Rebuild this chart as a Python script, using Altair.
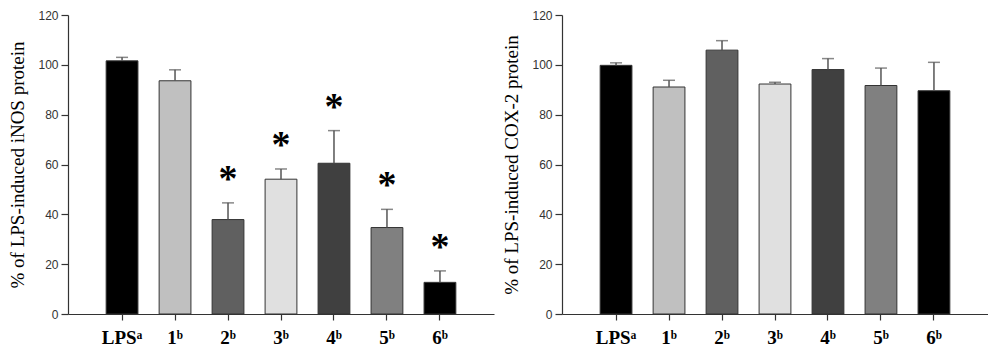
import altair as alt
import pandas as pd

categories = ["LPS", "1", "2", "3", "4", "5", "6"]
superscripts = ["a", "b", "b", "b", "b", "b", "b"]
colors = ["#000000", "#c0c0c0", "#606060", "#e0e0e0", "#404040", "#808080", "#000000"]

inos_mean = [101.6, 93.6, 37.9, 54.1, 60.5, 34.7, 12.7]
inos_err = [1.4, 4.4, 6.7, 4.1, 13.1, 7.3, 4.6]
inos_sig = ["", "", "*", "*", "*", "*", "*"]

cox_mean = [99.8, 91.1, 105.9, 92.3, 98.1, 91.7, 89.6]
cox_err = [1.0, 2.7, 3.8, 0.7, 4.4, 7.0, 11.4]
cox_sig = ["", "", "", "", "", "", ""]

y_ticks = [0, 20, 40, 60, 80, 100, 120]

sup_map = {"a": "\u1d43", "b": "\u1d47"}
labels = [c + sup_map[s] for c, s in zip(categories, superscripts)]


def panel(mean, err, sig, title):
    df = pd.DataFrame({
        "cat": labels,
        "mean": mean,
        "top": [m + e for m, e in zip(mean, err)],
        "color": colors,
        "sig": sig,
    })
    x = alt.X(
        "cat:N", sort=labels,
        scale=alt.Scale(paddingInner=0.4, paddingOuter=0.72),
        axis=alt.Axis(
            title=None, labelAngle=0, labelFont="Liberation Serif",
            labelFontWeight="bold", labelFontSize=19, labelColor="black",
            labelPadding=8, tickSize=6, domainColor="#333", tickColor="#333",
            domainWidth=1.2, tickWidth=1.2,
        ),
    )
    y = alt.Y(
        "mean:Q",
        scale=alt.Scale(domain=[0, 120], nice=False),
        axis=alt.Axis(
            title=title, values=y_ticks, grid=False, titleFont="Liberation Serif",
            titleFontSize=19, titleFontWeight="normal", titleColor="black",
            titlePadding=10, labelFont="Liberation Sans", labelFontSize=12,
            labelColor="#333", labelPadding=3, tickSize=7, tickColor="#333",
            domainColor="#333", domainWidth=1.2, tickWidth=1.2,
        ),
    )
    bars = alt.Chart(df).mark_bar(stroke="#333", strokeWidth=1).encode(
        x=x, y=y, color=alt.Color("color:N", scale=None)
    )
    rule = alt.Chart(df).mark_rule(color="#555", strokeWidth=1.5).encode(
        x=x, y="mean:Q", y2="top:Q"
    )
    cap = alt.Chart(df).mark_tick(color="#555", thickness=1.5, size=12).encode(
        x=x, y="top:Q"
    )
    layers = [bars, rule, cap]
    if any(s for s in sig):
        star = alt.Chart(df).transform_filter("datum.sig != ''").mark_text(
            font="Liberation Serif", fontWeight="bold", fontSize=38, dy=-12,
            baseline="alphabetic", color="black"
        ).encode(x=x, y="top:Q", text="sig:N")
        layers.append(star)
    return alt.layer(*layers).properties(width=426, height=299)


left = panel(inos_mean, inos_err, inos_sig, "% of LPS-induced iNOS protein")
right = panel(cox_mean, cox_err, cox_sig, "% of LPS-induced COX-2 protein")

chart = alt.hconcat(left, right, spacing=8).properties(
    padding={"left": 0, "top": 1, "right": 0, "bottom": 0}
).configure_view(stroke=None)

chart.save("out.html", embed_options={"renderer": "svg", "actions": False})
